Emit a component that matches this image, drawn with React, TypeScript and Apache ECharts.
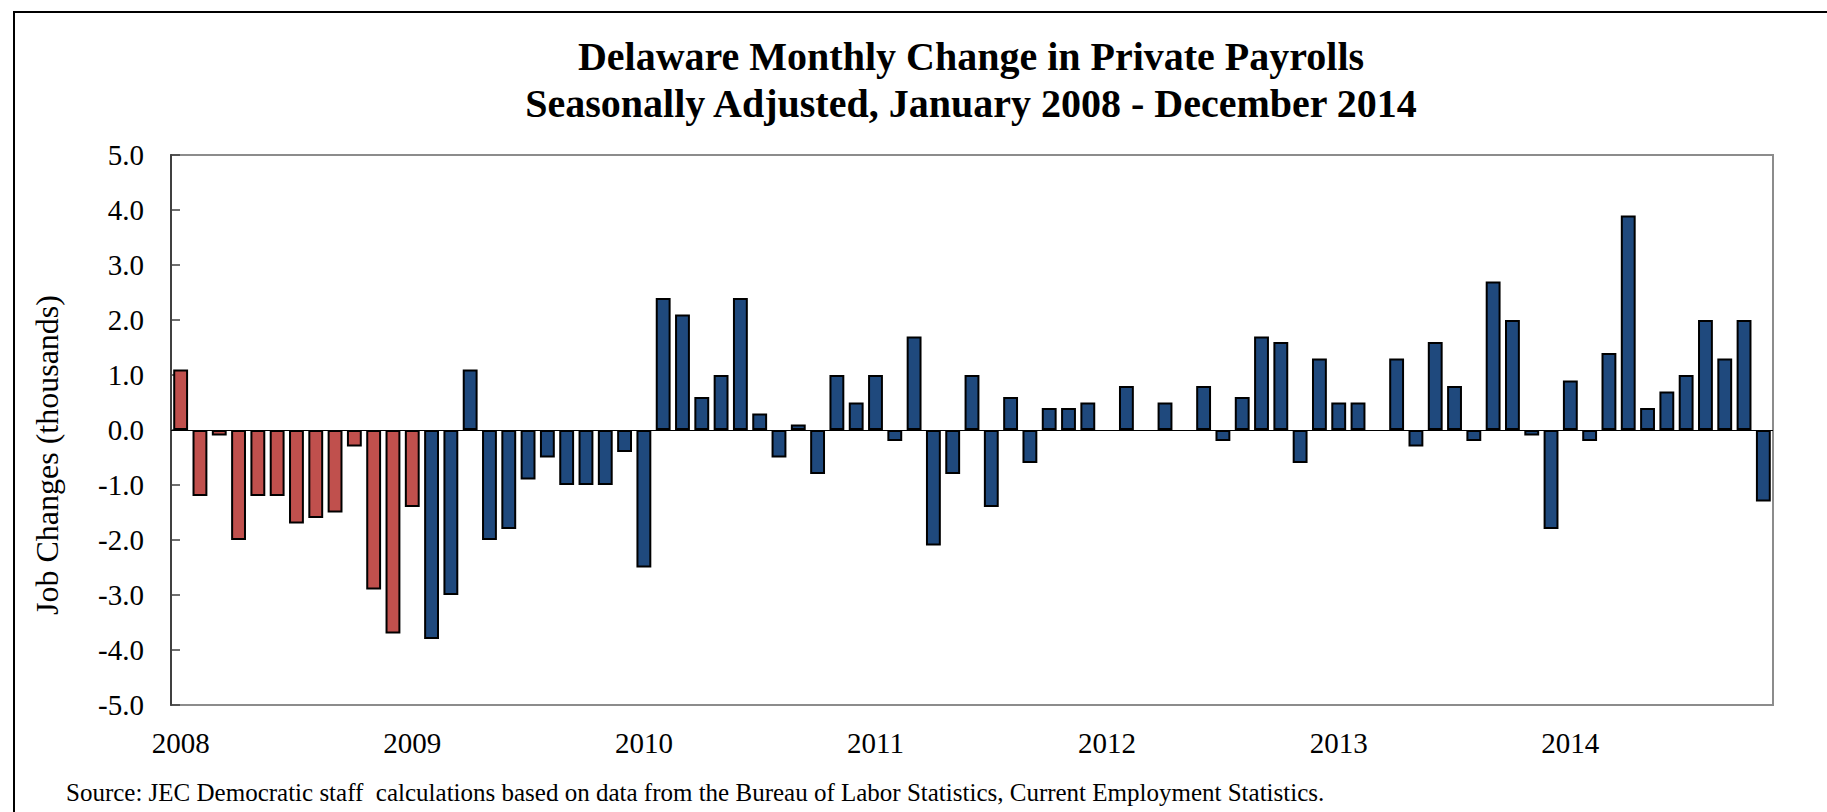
import React, { useEffect, useRef } from "react";
import * as echarts from "echarts";

const years = ["2008", "2009", "2010", "2011", "2012", "2013", "2014"];
const monthsPerYear = 12;

// Jan 2008 – Jan 2009 (red)
const redValues = [1.1, -1.2, -0.1, -2.0, -1.2, -1.2, -1.7, -1.6, -1.5, -0.3, -2.9, -3.7, -1.4];
// Feb 2009 – Nov 2014 (blue)
const blueValues = [
  -3.8, -3.0, 1.1, -2.0, -1.8, -0.9, -0.5, -1.0, -1.0, -1.0, -0.4,
  -2.5, 2.4, 2.1, 0.6, 1.0, 2.4, 0.3, -0.5, 0.1, -0.8, 1.0, 0.5,
  1.0, -0.2, 1.7, -2.1, -0.8, 1.0, -1.4, 0.6, -0.6, 0.4, 0.4, 0.5,
  0, 0.8, 0, 0.5, 0, 0.8, -0.2, 0.6, 1.7, 1.6, -0.6, 1.3,
  0.5, 0.5, 0, 1.3, -0.3, 1.6, 0.8, -0.2, 2.7, 2.0, -0.1, -1.8,
  0.9, -0.2, 1.4, 3.9, 0.4, 0.7, 1.0, 2.0, 1.3, 2.0, -1.3,
];

const yTicks = { min: -5, max: 5, interval: 1 };

const titleLines = [
  "Delaware Monthly Change in Private Payrolls",
  "Seasonally Adjusted, January 2008 - December 2014",
];
const yAxisTitle = "Job Changes (thousands)";
const sourceText =
  "Source: JEC Democratic staff  calculations based on data from the Bureau of Labor Statistics, Current Employment Statistics.";

export default function App() {
  const ref = useRef<HTMLDivElement>(null);

  useEffect(() => {
    if (!ref.current) return;
    const chart = echarts.init(ref.current, undefined, { renderer: "svg" });

    const total = redValues.length + blueValues.length;
    const categories: string[] = [];
    for (let i = 0; i < total; i++) {
      const y = years[Math.floor(i / monthsPerYear)];
      const m = (i % monthsPerYear) + 1;
      categories.push(`${y}-${m < 10 ? "0" + m : m}`);
    }

    const toItem = (v: number | null) =>
      v === null ? null : v === 0 ? { value: 0, itemStyle: { borderWidth: 0 } } : v;

    const redData = categories.map((_, i) => (i < redValues.length ? toItem(redValues[i]) : null));
    const blueData = categories.map((_, i) =>
      i >= redValues.length ? toItem(blueValues[i - redValues.length]) : null
    );

    const serif = '"Liberation Serif", "Times New Roman", serif';

    chart.setOption({
      animation: false,
      backgroundColor: "#ffffff",
      grid: {
        left: 171,
        right: 54,
        top: 155,
        bottom: 107,
        show: true,
        borderColor: "#8c8c8c",
        borderWidth: 2,
        backgroundColor: "transparent",
      },
      xAxis: {
        type: "category",
        data: categories,
        axisLine: { show: false },
        axisTick: { show: false },
        splitLine: { show: false },
        axisLabel: {
          interval: (i: number) => i % monthsPerYear === 0,
          formatter: (v: string) => v.slice(0, 4),
          fontFamily: serif,
          fontSize: 29,
          color: "#000",
          margin: 23,
        },
      },
      yAxis: {
        type: "value",
        min: yTicks.min,
        max: yTicks.max,
        interval: yTicks.interval,
        splitLine: { show: false },
        axisLine: { show: true, lineStyle: { color: "#404040", width: 2 } },
        axisTick: { show: true, inside: true, length: 9, lineStyle: { color: "#404040", width: 1.5 } },
        axisLabel: {
          formatter: (v: number) => v.toFixed(1),
          fontFamily: serif,
          fontSize: 29,
          color: "#000",
          margin: 27,
        },
      },
      series: [
        {
          name: "Red",
          type: "bar",
          data: redData,
          barWidth: "77%",
          barGap: "-100%",
          itemStyle: { color: "#C0504D", borderColor: "#000", borderWidth: 2 },
        },
        {
          name: "Blue",
          type: "bar",
          data: blueData,
          barWidth: "77%",
          barGap: "-100%",
          itemStyle: { color: "#1F497D", borderColor: "#000", borderWidth: 2 },
          markLine: {
            silent: true,
            symbol: "none",
            label: { show: false },
            lineStyle: { color: "#000", width: 1, type: "solid" },
            data: [{ yAxis: 0 }],
          },
        },
      ],
      graphic: [
        {
          type: "rect",
          shape: { x: 14, y: 12, width: 1900, height: 900 },
          style: { fill: "none", stroke: "#000", lineWidth: 2 },
          silent: true,
        },
        ...titleLines.map((t, i) => ({
          type: "text",
          x: 971,
          y: 56 + i * 47,
          style: {
            text: t,
            fill: "#000",
            font: `bold 40px ${serif}`,
            textAlign: "center",
            textVerticalAlign: "middle",
            align: "center",
            verticalAlign: "middle",
          },
        })),
        {
          type: "text",
          x: 47,
          y: 455,
          rotation: Math.PI / 2,
          style: {
            text: yAxisTitle,
            fill: "#000",
            font: `32px ${serif}`,
            textAlign: "center",
            textVerticalAlign: "middle",
            align: "center",
            verticalAlign: "middle",
          },
        },
        {
          type: "text",
          x: 66,
          y: 792,
          style: {
            text: sourceText,
            fill: "#000",
            font: `25px ${serif}`,
            textAlign: "left",
            textVerticalAlign: "middle",
            align: "left",
            verticalAlign: "middle",
          },
        },
      ],
    });

    return () => chart.dispose();
  }, []);

  return (
    <div
      ref={ref}
      style={{ position: "fixed", left: 0, top: 0, width: 1827, height: 812, background: "#fff" }}
    />
  );
}
